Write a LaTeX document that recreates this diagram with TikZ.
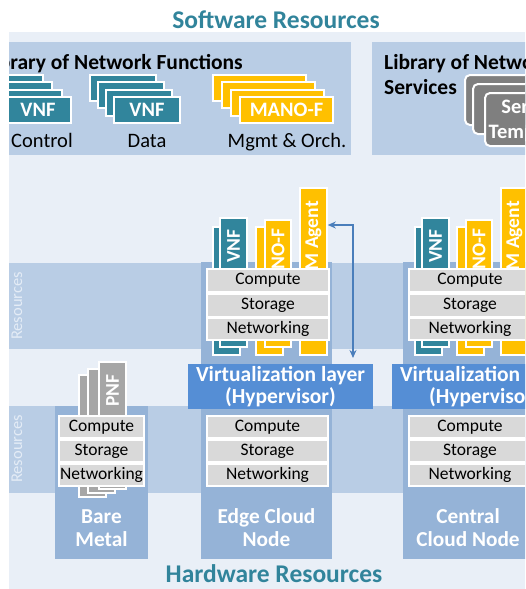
\documentclass[tikz,border=0pt]{standalone}
\usepackage{fontspec}
\setmainfont{Carlito}
\usetikzlibrary{arrows.meta}
\definecolor{bgl}{HTML}{E9EFF7}
\definecolor{bandc}{HTML}{B9CDE5}
\definecolor{colc}{HTML}{95B3D7}
\definecolor{virtc}{HTML}{558ED5}
\definecolor{vnfc}{HTML}{31859C}
\definecolor{goldc}{HTML}{FFC000}
\definecolor{pnfc}{HTML}{A6A6A6}
\definecolor{tplc}{HTML}{7F7F7F}
\definecolor{resgray}{HTML}{D9D9D9}
\definecolor{titlec}{HTML}{31849B}
\definecolor{arrc}{HTML}{4A7EBB}
\definecolor{bandtext}{HTML}{E4ECF6}
\newcommand\fsz[2]{\fontsize{#1}{#2}\selectfont}
\newcommand\bx[7]{\node[#2, minimum width={(#5-(#3))*1pt}, minimum height={(#6-(#4))*1pt}, inner sep=0pt] (#1) at ({(#3+#5)/2},{(#4+#6)/2}) {#7};}
\tikzset{
  card/.style={draw=white, line width=1.6pt},
  vnfcard/.style={card, fill=vnfc, text=white, font=\bfseries\fsz{20.5}{24}},
  manocard/.style={card, fill=goldc, text=white, font=\bfseries\fsz{20.5}{24}},
  pnfcard/.style={card, fill=pnfc},
  tplcard/.style={draw=white, line width=2pt, rounded corners=5pt, fill=tplc},
  resbox/.style={fill=resgray, draw=white, line width=1.2pt, font=\fsz{17.5}{20}},
  virtbox/.style={fill=virtc, text=white, align=center, font=\bfseries\fsz{21.5}{22}},
  colbox/.style={fill=colc},
  vtext/.style={rotate=90, anchor=east, inner sep=0pt, text=white, font=\bfseries\fsz{19.5}{22}},
  nodelabel/.style={text=white, align=center, font=\bfseries\fsz{21.3}{23}},
  liblabel/.style={anchor=base, inner sep=0pt, font=\fsz{20.5}{24}},
  libtitle/.style={inner sep=0pt, font=\bfseries\fsz{21.5}{25}},
  bigtitle/.style={anchor=base, text=titlec, font=\bfseries\fsz{25.5}{28}},
  bandlabel/.style={rotate=90, text=bandtext, font=\fsz{16.5}{20}},
  arr/.style={draw=arrc, line width=1.3pt, {Stealth[length=8pt,width=7pt]}-{Stealth[length=8pt,width=7pt]}}
}
\begin{document}
\begin{tikzpicture}[x=1pt,y=-1pt]
\useasboundingbox (0,0) rectangle (525,589);
\fill[white] (0,0) rectangle (525,589);
\clip (9,0) rectangle (525,589);
\fill[bgl] (9,32) rectangle (525,589);
\node[bigtitle] (swtitle) at (276,28) {Software Resources};
% libraries
\bx{libnf}{fill=bandc}{9}{42}{351}{155}{}
\bx{libns}{fill=bandc}{372}{42}{600}{155}{}
\node[libtitle, anchor=base east] (libnft) at (243,69) {Library of Network Functions};
\node[libtitle, anchor=base west] (libnst) at (384,69) {Library of Network};
\node[libtitle, anchor=base west] (libnss) at (384,94) {Services};
% control stack
\bx{c1}{vnfcard}{-23}{75}{43}{101}{}
\bx{c2}{vnfcard}{-14}{82}{52}{108}{}
\bx{c3}{vnfcard}{-4}{90}{62}{116}{}
\bx{c4}{vnfcard}{5}{97}{71}{123}{VNF}
\node[liblabel] (lctrl) at (42,147) {Control};
% data stack
\bx{d1}{vnfcard}{90}{75}{156}{101}{}
\bx{d2}{vnfcard}{98}{82}{164}{108}{}
\bx{d3}{vnfcard}{106}{90}{172}{116}{}
\bx{d4}{vnfcard}{114}{97}{180}{123}{VNF}
\node[liblabel] (ldata) at (147,147) {Data};
% mano stack
\bx{m1}{manocard}{213}{75}{306}{101}{}
\bx{m2}{manocard}{222}{82}{315}{108}{}
\bx{m3}{manocard}{231}{90}{324}{116}{}
\bx{m4}{manocard}{240}{97}{333}{123}{MANO-F}
\node[liblabel] (lmgmt) at (287,147) {Mgmt \& Orch.};
% templates
\bx{t1}{tplcard}{465}{75}{560}{125}{}
\bx{t2}{tplcard}{473}{84}{568}{134}{}
\bx{t3}{tplcard}{485}{93}{580}{146}{}
\node[text=white, align=center, font=\bfseries\fsz{20.5}{25}] (t3txt) at (532,120.5) {Service\\Templates};
% bands
\fill[bandc] (9,263) rectangle (525,349);
\fill[bandc] (9,406) rectangle (525,493);
\node[bandlabel] (vrlab) at (17,306) {Resources};
\node[bandlabel] (hrlab) at (17,449) {Resources};
% columns
\bx{bmcol}{colbox}{55}{406}{148}{559}{}
\bx{eccol}{colbox}{201}{262}{332}{559}{}
\bx{cccol}{colbox}{403}{262}{620}{559}{}
% edge node
\bx{evnfb}{vnfcard}{213}{227}{240}{355}{}
\bx{evnf}{vnfcard}{220}{218}{247}{347}{}
\node[vtext] (evnft) at (233.5,229) {VNF};
\bx{emanob}{manocard}{256}{227}{283}{355}{}
\bx{emano}{manocard}{265}{220}{291}{347}{}
\node[vtext] (emanot) at (278,228) {MANO-F};
\bx{evim}{manocard}{300}{188}{327}{355}{}
\node[vtext] (evimt) at (313.5,201) {VIM Agent};
\bx{evc}{resbox}{207}{269}{329}{292}{Compute}
\bx{evs}{resbox}{207}{294}{329}{317}{Storage}
\bx{evn}{resbox}{207}{318}{329}{340}{Networking}
\bx{evirt}{virtbox}{188}{364}{373}{409}{Virtualization layer\\(Hypervisor)}
\bx{ehc}{resbox}{207}{416}{328}{438}{Compute}
\bx{ehs}{resbox}{207}{440}{328}{462}{Storage}
\bx{ehn}{resbox}{207}{464}{328}{486}{Networking}
\node[nodelabel] (elab) at (266.5,528) {Edge Cloud\\Node};
\coordinate (earr) at (353,358);
\draw[arr] (evim.east |- 0,225) -| (earr);
% central node
\bx{cvnfb}{vnfcard}{415}{227}{442}{355}{}
\bx{cvnf}{vnfcard}{422}{218}{449}{347}{}
\node[vtext] (cvnft) at (435.5,229) {VNF};
\bx{cmanob}{manocard}{457}{227}{484}{355}{}
\bx{cmano}{manocard}{466}{220}{492}{347}{}
\node[vtext] (cmanot) at (479,228) {MANO-F};
\bx{cvim}{manocard}{501}{188}{528}{355}{}
\node[vtext] (cvimt) at (514.5,201) {VIM Agent};
\bx{cvc}{resbox}{409}{269}{531}{292}{Compute}
\bx{cvs}{resbox}{409}{294}{531}{317}{Storage}
\bx{cvn}{resbox}{409}{318}{531}{340}{Networking}
\bx{cvirt}{virtbox}{392}{364}{577}{409}{Virtualization layer\\(Hypervisor)}
\bx{chc}{resbox}{409}{416}{531}{438}{Compute}
\bx{chs}{resbox}{409}{440}{531}{462}{Storage}
\bx{chn}{resbox}{409}{464}{531}{486}{Networking}
\node[nodelabel] (clab) at (468,528) {Central\\Cloud Node};
% bare metal
\bx{p1}{pnfcard}{79}{375}{106}{497}{}
\bx{p2}{pnfcard}{88}{369}{115}{493}{}
\bx{p3}{pnfcard}{99}{362}{126}{489}{}
\node[vtext] (pnft) at (112.5,374) {PNF};
\bx{bhc}{resbox}{59}{416}{144}{438}{Compute}
\bx{bhs}{resbox}{59}{440}{144}{462}{Storage}
\bx{bhn}{resbox}{59}{464}{144}{486}{Networking}
\node[nodelabel] (blab) at (101.5,528) {Bare\\Metal};
\node[bigtitle] (hwtitle) at (274,582) {Hardware Resources};
\end{tikzpicture}
\end{document}
